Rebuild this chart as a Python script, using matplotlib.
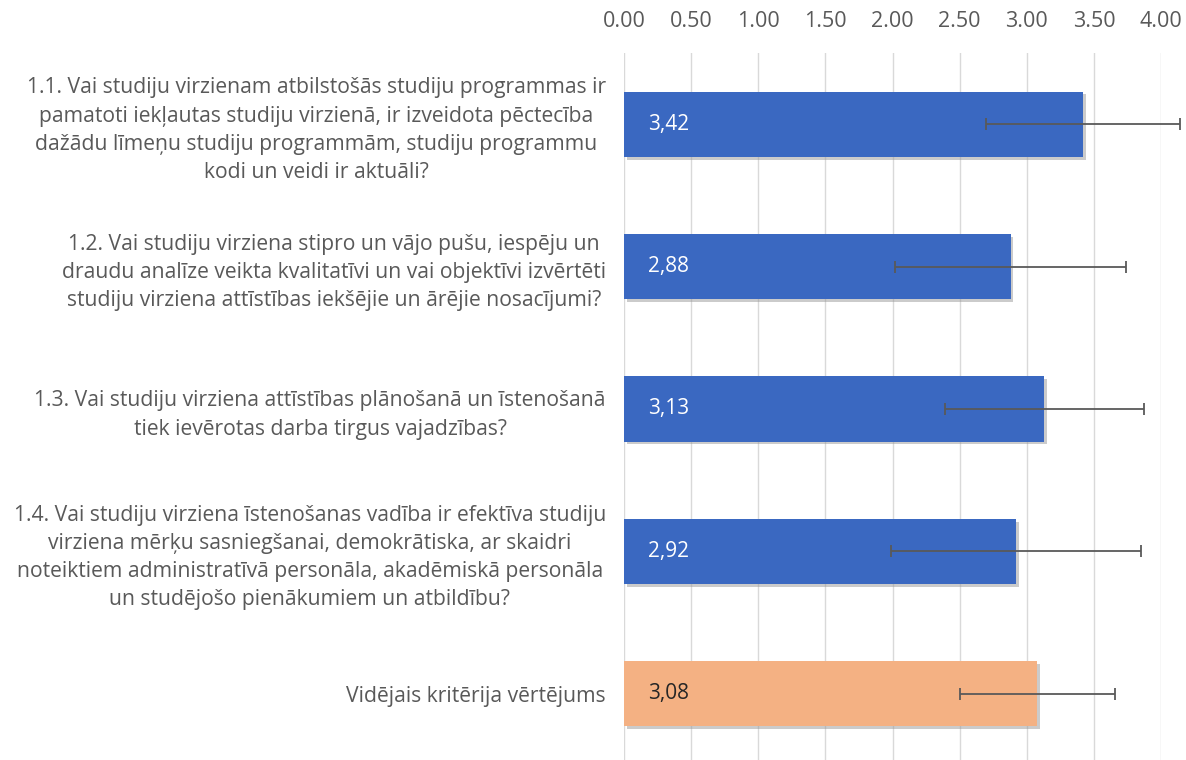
import matplotlib
matplotlib.use("Agg")
import matplotlib.pyplot as plt
import matplotlib.patheffects as pe

categories = [
    "1.1. Vai studiju virzienam atbilstošās studiju programmas ir\npamatoti iekļautas studiju virzienā, ir izveidota pēctecība\ndažādu līmeņu studiju programmām, studiju programmu\nkodi un veidi ir aktuāli?",
    "1.2. Vai studiju virziena stipro un vājo pušu, iespēju un\ndraudu analīze veikta kvalitatīvi un vai objektīvi izvērtēti\nstudiju virziena attīstības iekšējie un ārējie nosacījumi?",
    "1.3. Vai studiju virziena attīstības plānošanā un īstenošanā\ntiek ievērotas darba tirgus vajadzības?",
    "1.4. Vai studiju virziena īstenošanas vadība ir efektīva studiju\nvirziena mērķu sasniegšanai, demokrātiska, ar skaidri\nnoteiktiem administratīvā personāla, akadēmiskā personāla\nun studējošo pienākumiem un atbildību?",
    "Vidējais kritērija vērtējums",
]
values = [3.42, 2.88, 3.13, 2.92, 3.08]
errors = [0.72, 0.86, 0.74, 0.93, 0.58]
value_labels = ["3,42", "2,88", "3,13", "2,92", "3,08"]
tick_values = [0.0, 0.5, 1.0, 1.5, 2.0, 2.5, 3.0, 3.5, 4.0]
tick_labels = ["0.00", "0.50", "1.00", "1.50", "2.00", "2.50", "3.00", "3.50", "4.00"]

colors = ["#3A68C1"] * 4 + ["#F4B183"]
label_colors = ["white"] * 4 + ["#262626"]

plt.rcParams['font.family'] = ['Open Sans', 'DejaVu Sans']

fig = plt.figure(figsize=(11.86, 7.6), dpi=100)
ax = fig.add_axes([624 / 1186, -5 / 760, (1161 - 624) / 1186, 712 / 760])

ypos = list(range(len(categories)))
bars = ax.barh(ypos, values, height=0.457, color=colors, zorder=3)
for b in bars:
    b.set_path_effects([pe.SimplePatchShadow(offset=(2, -2), shadow_rgbFace='#999999', alpha=0.5), pe.Normal()])

ax.errorbar(values, ypos, xerr=errors, fmt='none', ecolor='#595959', elinewidth=1.3,
            capsize=4.5, capthick=1.3, zorder=4, clip_on=False)

for y, lab, c in zip(ypos, value_labels, label_colors):
    ax.text(0.18, y, lab, color=c, fontsize=15, va='center', ha='left', zorder=5)

ax.set_xlim(0, 4)
ax.set_ylim(4.5, -0.5)
ax.set_xticks(tick_values)
ax.set_xticklabels(tick_labels)
ax.xaxis.tick_top()
ax.tick_params(axis='x', length=0, pad=15, labelsize=15.5, labelcolor='#595959')
ax.grid(axis='x', color='#D9D9D9', linewidth=1.0, zorder=0)

ax.set_yticks(ypos)
ax.set_yticklabels(categories, fontsize=15.2, color='#595959', multialignment='center', linespacing=1.45)
ax.tick_params(axis='y', length=0, pad=13)

for s in ax.spines.values():
    s.set_visible(False)

fig.savefig("out.png", dpi=100, facecolor='white')
